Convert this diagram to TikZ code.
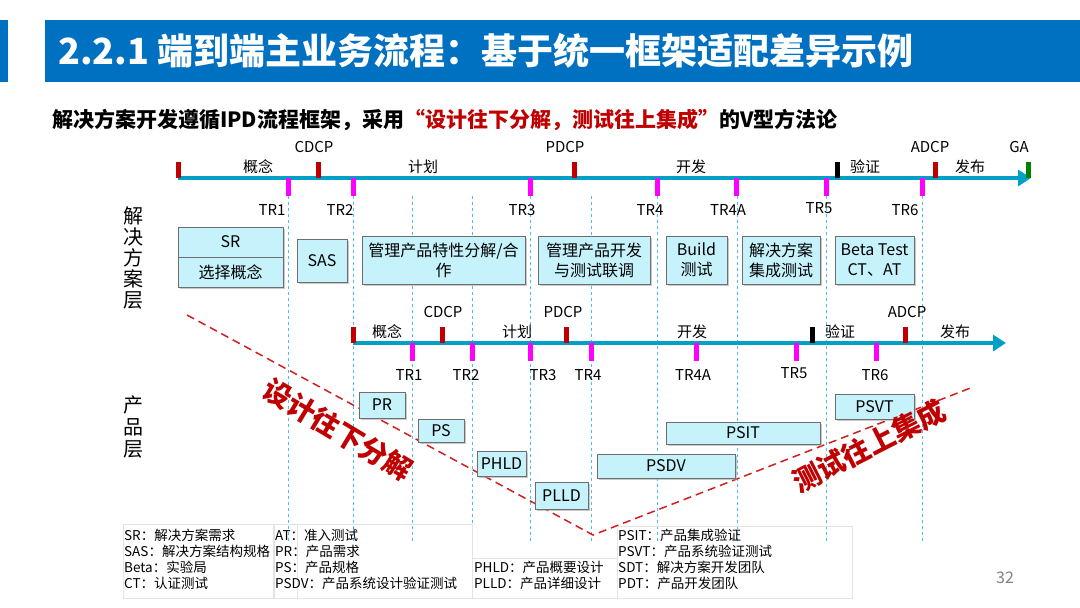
\documentclass[tikz,border=0pt]{standalone}
\usepackage{fontspec}
\setmainfont{Noto Sans CJK SC}
\usetikzlibrary{arrows.meta,shadows}
\definecolor{titleblue}{RGB}{0,112,192}
\definecolor{tlblue}{RGB}{0,160,198}
\definecolor{tickred}{RGB}{192,0,0}
\definecolor{tickpink}{RGB}{255,0,255}
\definecolor{tickgreen}{RGB}{0,128,0}
\definecolor{boxfill}{RGB}{197,242,251}
\definecolor{boxedge}{RGB}{110,110,110}
\definecolor{vdash}{RGB}{70,195,225}
\definecolor{vred}{RGB}{210,30,30}
\definecolor{legedge}{RGB}{228,228,228}
\tikzset{
  lbl/.style={inner sep=0pt, font=\fontsize{15}{17}\selectfont},
  box/.style={draw=boxedge, fill=boxfill, line width=1pt, inner sep=0pt, align=center,
    drop shadow={shadow xshift=1.5pt, shadow yshift=-1.5pt, fill=black!35, opacity=0.6},
    font=\fontsize{16}{20}\selectfont},
  tline/.style={draw=tlblue, line width=4pt, -{Triangle[length=13pt,width=16pt]}},
  vd/.style={draw=vdash, line width=0.9pt, dash pattern=on 3pt off 3pt},
  vline/.style={draw=vred, line width=1.5pt, dash pattern=on 8pt off 5pt},
  legbox/.style={draw=legedge, line width=0.8pt},
  legtxt/.style={inner sep=0pt, anchor=north west, align=left, font=\fontsize{13.5}{16}\selectfont},
  bigred/.style={inner sep=0pt, text=tickred, font=\fontsize{28}{30}\selectfont\bfseries}
}
\newcommand{\tickup}[3]{\fill[#1] (#2-2.5,#3-16) rectangle (#2+2.5,#3);}
\newcommand{\tickdn}[2]{\fill[tickpink] (#1-2.5,#2) rectangle (#1+2.5,#2+18);}
\begin{document}
\begin{tikzpicture}[x=1pt,y=-1pt]
\useasboundingbox (0,0) rectangle (1080,608);
\fill[white] (0,0) rectangle (1080,608);
% title
\fill[titleblue] (0,20) rectangle (8,82);
\fill[titleblue] (45,20) rectangle (1080,82);
\node[anchor=west, inner sep=0pt, text=white, font=\fontsize{36}{38}\selectfont\bfseries] (title) at (58,51) {2.2.1 端到端主业务流程：基于统一框架适配差异示例};
\node[anchor=west, inner sep=0pt, font=\fontsize{21}{24}\selectfont\bfseries] (sub) at (52,120) {解决方案开发遵循IPD流程框架，采用\textcolor{tickred}{“设计往下分解，测试往上集成”}的V型方法论};
% side labels
\node[align=center, inner sep=0pt, font=\fontsize{20}{21}\selectfont] (lsol) at (133,258) {解\\决\\方\\案\\层};
\node[align=center, inner sep=0pt, font=\fontsize{20}{22}\selectfont] (lprod) at (133,427) {产\\品\\层};
% vertical dashed lines
\foreach \x in {288,353,412,472,530,591,657,737,826,922} {\draw[vd] (\x,196) -- (\x,542);}
% V lines
\coordinate (v1) at (187,315);
\coordinate (v2) at (593,535);
\coordinate (v3) at (973,387);
\draw[vline] (v1) -- (v2) -- (v3);
% top timeline
\coordinate (t1s) at (178,178);
\coordinate (t1e) at (1031,178);
\draw[tline] (t1s) -- (t1e);
\tickup{tickred}{178}{178}
\tickup{tickred}{318}{178}
\tickup{tickred}{574}{178}
\tickup{tickred}{935}{178}
\tickup{black}{837}{178}
\tickup{tickgreen}{1028}{178}
\foreach \x in {288,353,530,657,736,826,922} {\tickdn{\x}{178}}
\node[lbl] (c1) at (314,147) {CDCP};
\node[lbl] (p1) at (565,147) {PDCP};
\node[lbl] (a1) at (930,147) {ADCP};
\node[lbl] (g1) at (1019,147) {GA};
\node[lbl] (ph11) at (258,167) {概念};
\node[lbl] (ph12) at (423,167) {计划};
\node[lbl] (ph13) at (691,167) {开发};
\node[lbl] (ph14) at (865,167) {验证};
\node[lbl] (ph15) at (970,167) {发布};
\node[lbl] (tr11) at (272,210) {TR1};
\node[lbl] (tr12) at (340,210) {TR2};
\node[lbl] (tr13) at (522,210) {TR3};
\node[lbl] (tr14) at (650,210) {TR4};
\node[lbl] (tr15) at (728,210) {TR4A};
\node[lbl] (tr16) at (819,208) {TR5};
\node[lbl] (tr17) at (905,210) {TR6};
% top boxes
\node[box, minimum width=105pt, minimum height=60pt] (sr) at (230.5,257) {};
\draw[boxedge, line width=1pt] (sr.west) -- (sr.east);
\node[inner sep=0pt, font=\fontsize{16}{20}\selectfont] (srt) at (230.5,242) {SR};
\node[inner sep=0pt, font=\fontsize{16}{20}\selectfont] (srb) at (230.5,272) {选择概念};
\node[box, minimum width=50pt, minimum height=43pt] (sas) at (322,260.5) {SAS};
\node[box, minimum width=163pt, minimum height=48pt] (b3) at (443.5,260) {管理产品特性分解/合\\作};
\node[box, minimum width=112pt, minimum height=48pt] (b4) at (594,260) {管理产品开发\\与测试联调};
\node[box, minimum width=61pt, minimum height=48pt] (b5) at (696.5,260) {Build\\测试};
\node[box, minimum width=78pt, minimum height=48pt] (b6) at (781,260) {解决方案\\集成测试};
\node[box, minimum width=79pt, minimum height=48pt] (b7) at (874.5,260) {Beta Test\\CT、AT};
% lower timeline
\coordinate (t2s) at (353,343);
\coordinate (t2e) at (1006,343);
\draw[tline] (t2s) -- (t2e);
\tickup{tickred}{353}{343}
\tickup{tickred}{442}{343}
\tickup{tickred}{566}{343}
\tickup{tickred}{905}{343}
\tickup{black}{812}{343}
\foreach \x in {412,472,530,591,696,796,876} {\tickdn{\x}{343}}
\node[lbl] (c2) at (443,312) {CDCP};
\node[lbl] (p2) at (563,312) {PDCP};
\node[lbl] (a2) at (907,312) {ADCP};
\node[lbl] (ph21) at (387,332) {概念};
\node[lbl] (ph22) at (517,332) {计划};
\node[lbl] (ph23) at (692,332) {开发};
\node[lbl] (ph24) at (840,332) {验证};
\node[lbl] (ph25) at (955,332) {发布};
\node[lbl] (tr21) at (409,375) {TR1};
\node[lbl] (tr22) at (466,375) {TR2};
\node[lbl] (tr23) at (543,375) {TR3};
\node[lbl] (tr24) at (588,375) {TR4};
\node[lbl] (tr25) at (693,375) {TR4A};
\node[lbl] (tr26) at (794,373) {TR5};
\node[lbl] (tr27) at (875,375) {TR6};
% lower boxes
\node[box, minimum width=46pt, minimum height=26pt] (pr) at (382,405) {PR};
\node[box, minimum width=46pt, minimum height=23pt] (ps) at (441,430.5) {PS};
\node[box, minimum width=49pt, minimum height=25pt] (phld) at (501.5,463.5) {PHLD};
\node[box, minimum width=53pt, minimum height=27pt] (plld) at (561.5,495.5) {PLLD};
\node[box, minimum width=138pt, minimum height=24pt] (psdv) at (666,466) {PSDV};
\node[box, minimum width=154pt, minimum height=22pt] (psit) at (743,433) {PSIT};
\node[box, minimum width=79pt, minimum height=25pt] (psvt) at (874.5,406.5) {PSVT};
% big red texts
\node[bigred, rotate=-31] (down) at (338,430) {设计往下分解};
\node[bigred, rotate=27] (up) at (869,446) {测试往上集成};
% legend
\draw[legbox] (123,524) rectangle (274,598);
\draw[legbox] (273,524) rectangle (472,598);
\draw[legbox] (297,524) -- (297,598);
\draw[legbox] (472,558) rectangle (617,598);
\draw[legbox] (617,526) rectangle (852,598);
\node[legtxt] (lg1) at (124,529) {SR：解决方案需求\\SAS：解决方案结构规格\\Beta：实验局\\CT：认证测试};
\node[legtxt] (lg2) at (275,529) {AT：准入测试\\PR：产品需求\\PS：产品规格\\PSDV：产品系统设计验证测试};
\node[legtxt] (lg3) at (474,561) {PHLD：产品概要设计\\PLLD：产品详细设计};
\node[legtxt] (lg4) at (618,529) {PSIT：产品集成验证\\PSVT：产品系统验证测试\\SDT：解决方案开发团队\\PDT：产品开发团队};
\node[inner sep=0pt, text=black!50, font=\fontsize{16}{18}\selectfont] (pg) at (1005,578) {32};
\end{tikzpicture}
\end{document}
